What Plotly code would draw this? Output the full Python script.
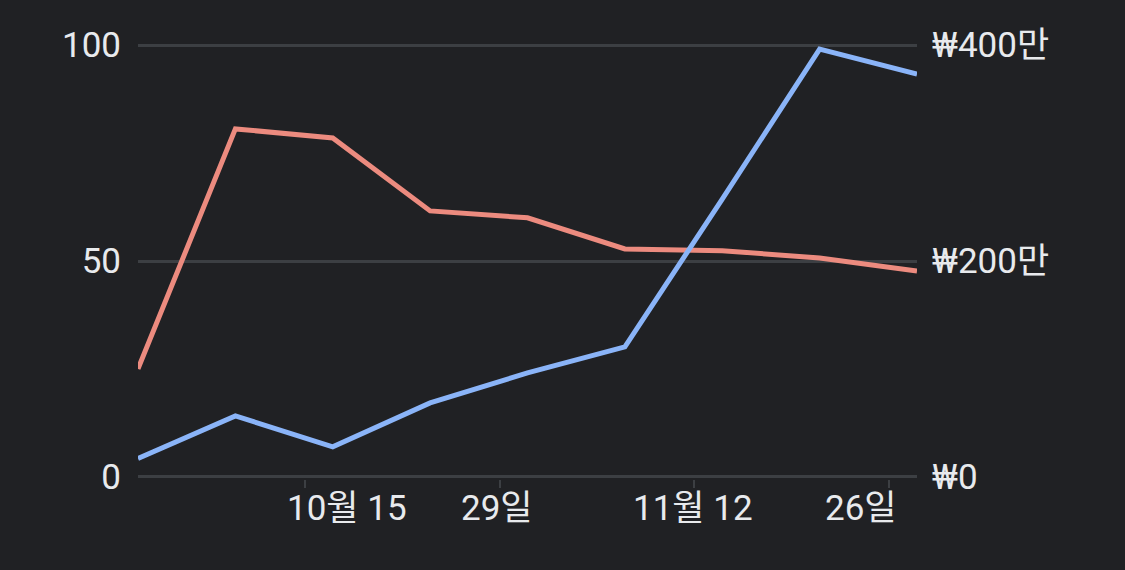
import plotly.graph_objects as go

# weekly points
dates = ["2023-10-03", "2023-10-10", "2023-10-17", "2023-10-24", "2023-10-31",
         "2023-11-07", "2023-11-14", "2023-11-21", "2023-11-28"]
interest = [25.0, 80.6, 78.5, 61.6, 60.0, 52.8, 52.4, 50.7, 47.7]
price_won = [170000, 565000, 278000, 685000, 963000, 1204000, 2574000, 3963000, 3731000]

x_ticks = ["2023-10-15", "2023-10-29", "2023-11-12", "2023-11-26"]
x_labels = ["10월 15", "29일", "11월 12", "26일"]
label_shift = [42, -3, -1, -28]

left_ticks = [0, 50, 100]
right_ticks = [0, 2000000, 4000000]
right_labels = ["₩0", "₩200만", "₩400만"]

bg = "#202124"
grid = "#3c3f43"
text_col = "#e8eaed"
font_family = "Roboto, 'Noto Sans CJK KR', sans-serif"
font_size = 35

fig = go.Figure()
fig.add_trace(go.Scatter(
    x=dates, y=interest, mode="lines",
    line=dict(color="#ec8b7f", width=5),
    yaxis="y", hoverinfo="skip"
))
fig.add_trace(go.Scatter(
    x=dates, y=price_won, mode="lines",
    line=dict(color="#8ab4f8", width=5),
    yaxis="y2", hoverinfo="skip"
))

for d, lab, sh in zip(x_ticks, x_labels, label_shift):
    fig.add_annotation(
        x=d, xref="x", y=0, yref="paper", yanchor="top",
        text=lab, showarrow=False, xshift=sh, yshift=-7,
        font=dict(family=font_family, size=font_size, color=text_col)
    )

# small padding so the 0 and 100 grid lines are not dropped at the edges
pad = 0.5

fig.update_layout(
    width=1125, height=570,
    paper_bgcolor=bg, plot_bgcolor=bg,
    showlegend=False,
    margin=dict(l=138, r=208, t=43, b=91),
    font=dict(family=font_family, size=font_size, color=text_col),
    xaxis=dict(
        type="date",
        range=[dates[0], dates[-1]],
        tickvals=x_ticks,
        ticktext=[""] * len(x_ticks),
        ticks="outside", ticklen=8, tickwidth=2, tickcolor=grid,
        showgrid=False, showline=False, zeroline=False
    ),
    yaxis=dict(
        range=[-pad, 100 + pad],
        tickvals=left_ticks,
        showgrid=True, gridcolor=grid, gridwidth=2.5,
        zeroline=False, showline=False, ticks="",
        ticklabelstandoff=16
    ),
    yaxis2=dict(
        range=[-pad * 40000, (100 + pad) * 40000],
        overlaying="y", side="right",
        tickvals=right_ticks, ticktext=right_labels,
        showgrid=False, zeroline=False, showline=False, ticks="",
        ticklabelstandoff=14
    )
)

page_fix = """
document.body.style.margin = '0';
document.body.style.background = '#202124';
"""

fig.write_html("out.html", post_script=page_fix, config={"displayModeBar": False})
